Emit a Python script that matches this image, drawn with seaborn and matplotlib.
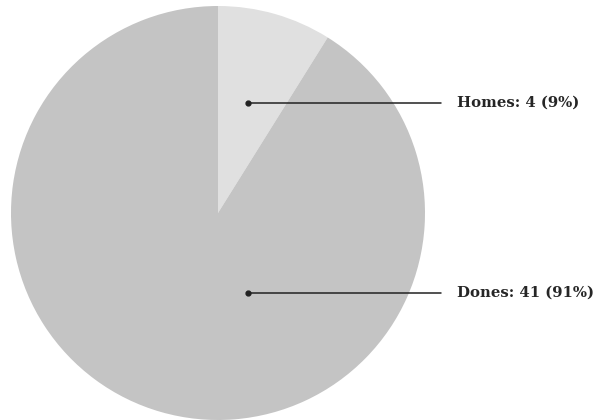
import matplotlib
matplotlib.use("Agg")
import matplotlib.pyplot as plt
import seaborn as sns

# data
labels = ["Homes", "Dones"]
counts = [4, 41]
colors = ["#e0e0e0", "#c4c4c4"]

sns.set_theme(style="white")
plt.rcParams['font.family'] = ['DejaVu Serif', 'DejaVu Sans']

fig = plt.figure(figsize=(6, 4.2), dpi=100)
ax = fig.add_axes([0, 0, 1, 1])

# pie, starting at the top and going clockwise
ax.pie(counts, colors=colors, startangle=90, counterclock=False, radius=1,
       center=(0, 0), wedgeprops=dict(linewidth=0))

# 1 unit = 207 px, center at (218, 213) px
r_px = 207.0
ax.set_xlim(-218 / r_px, (600 - 218) / r_px)
ax.set_ylim(-(420 - 213) / r_px, 213 / r_px)
ax.set_aspect('auto')
ax.axis('off')

total = sum(counts)
anchors = [(0.145, 0.531), (0.145, -0.386)]
line_end = 1.077
text_x = 1.155
for lab, n, (x0, y0) in zip(labels, counts, anchors):
    ax.plot([x0, line_end], [y0, y0], color="#222222", lw=1.1)
    ax.plot(x0, y0, 'o', color="#222222", ms=3.5)
    ax.text(text_x, y0, f"{lab}: {n} ({round(n / total * 100)}%)",
            ha='left', va='center', fontsize=10.7, fontweight='bold',
            color="#262626")

fig.savefig("out.png", dpi=100)
